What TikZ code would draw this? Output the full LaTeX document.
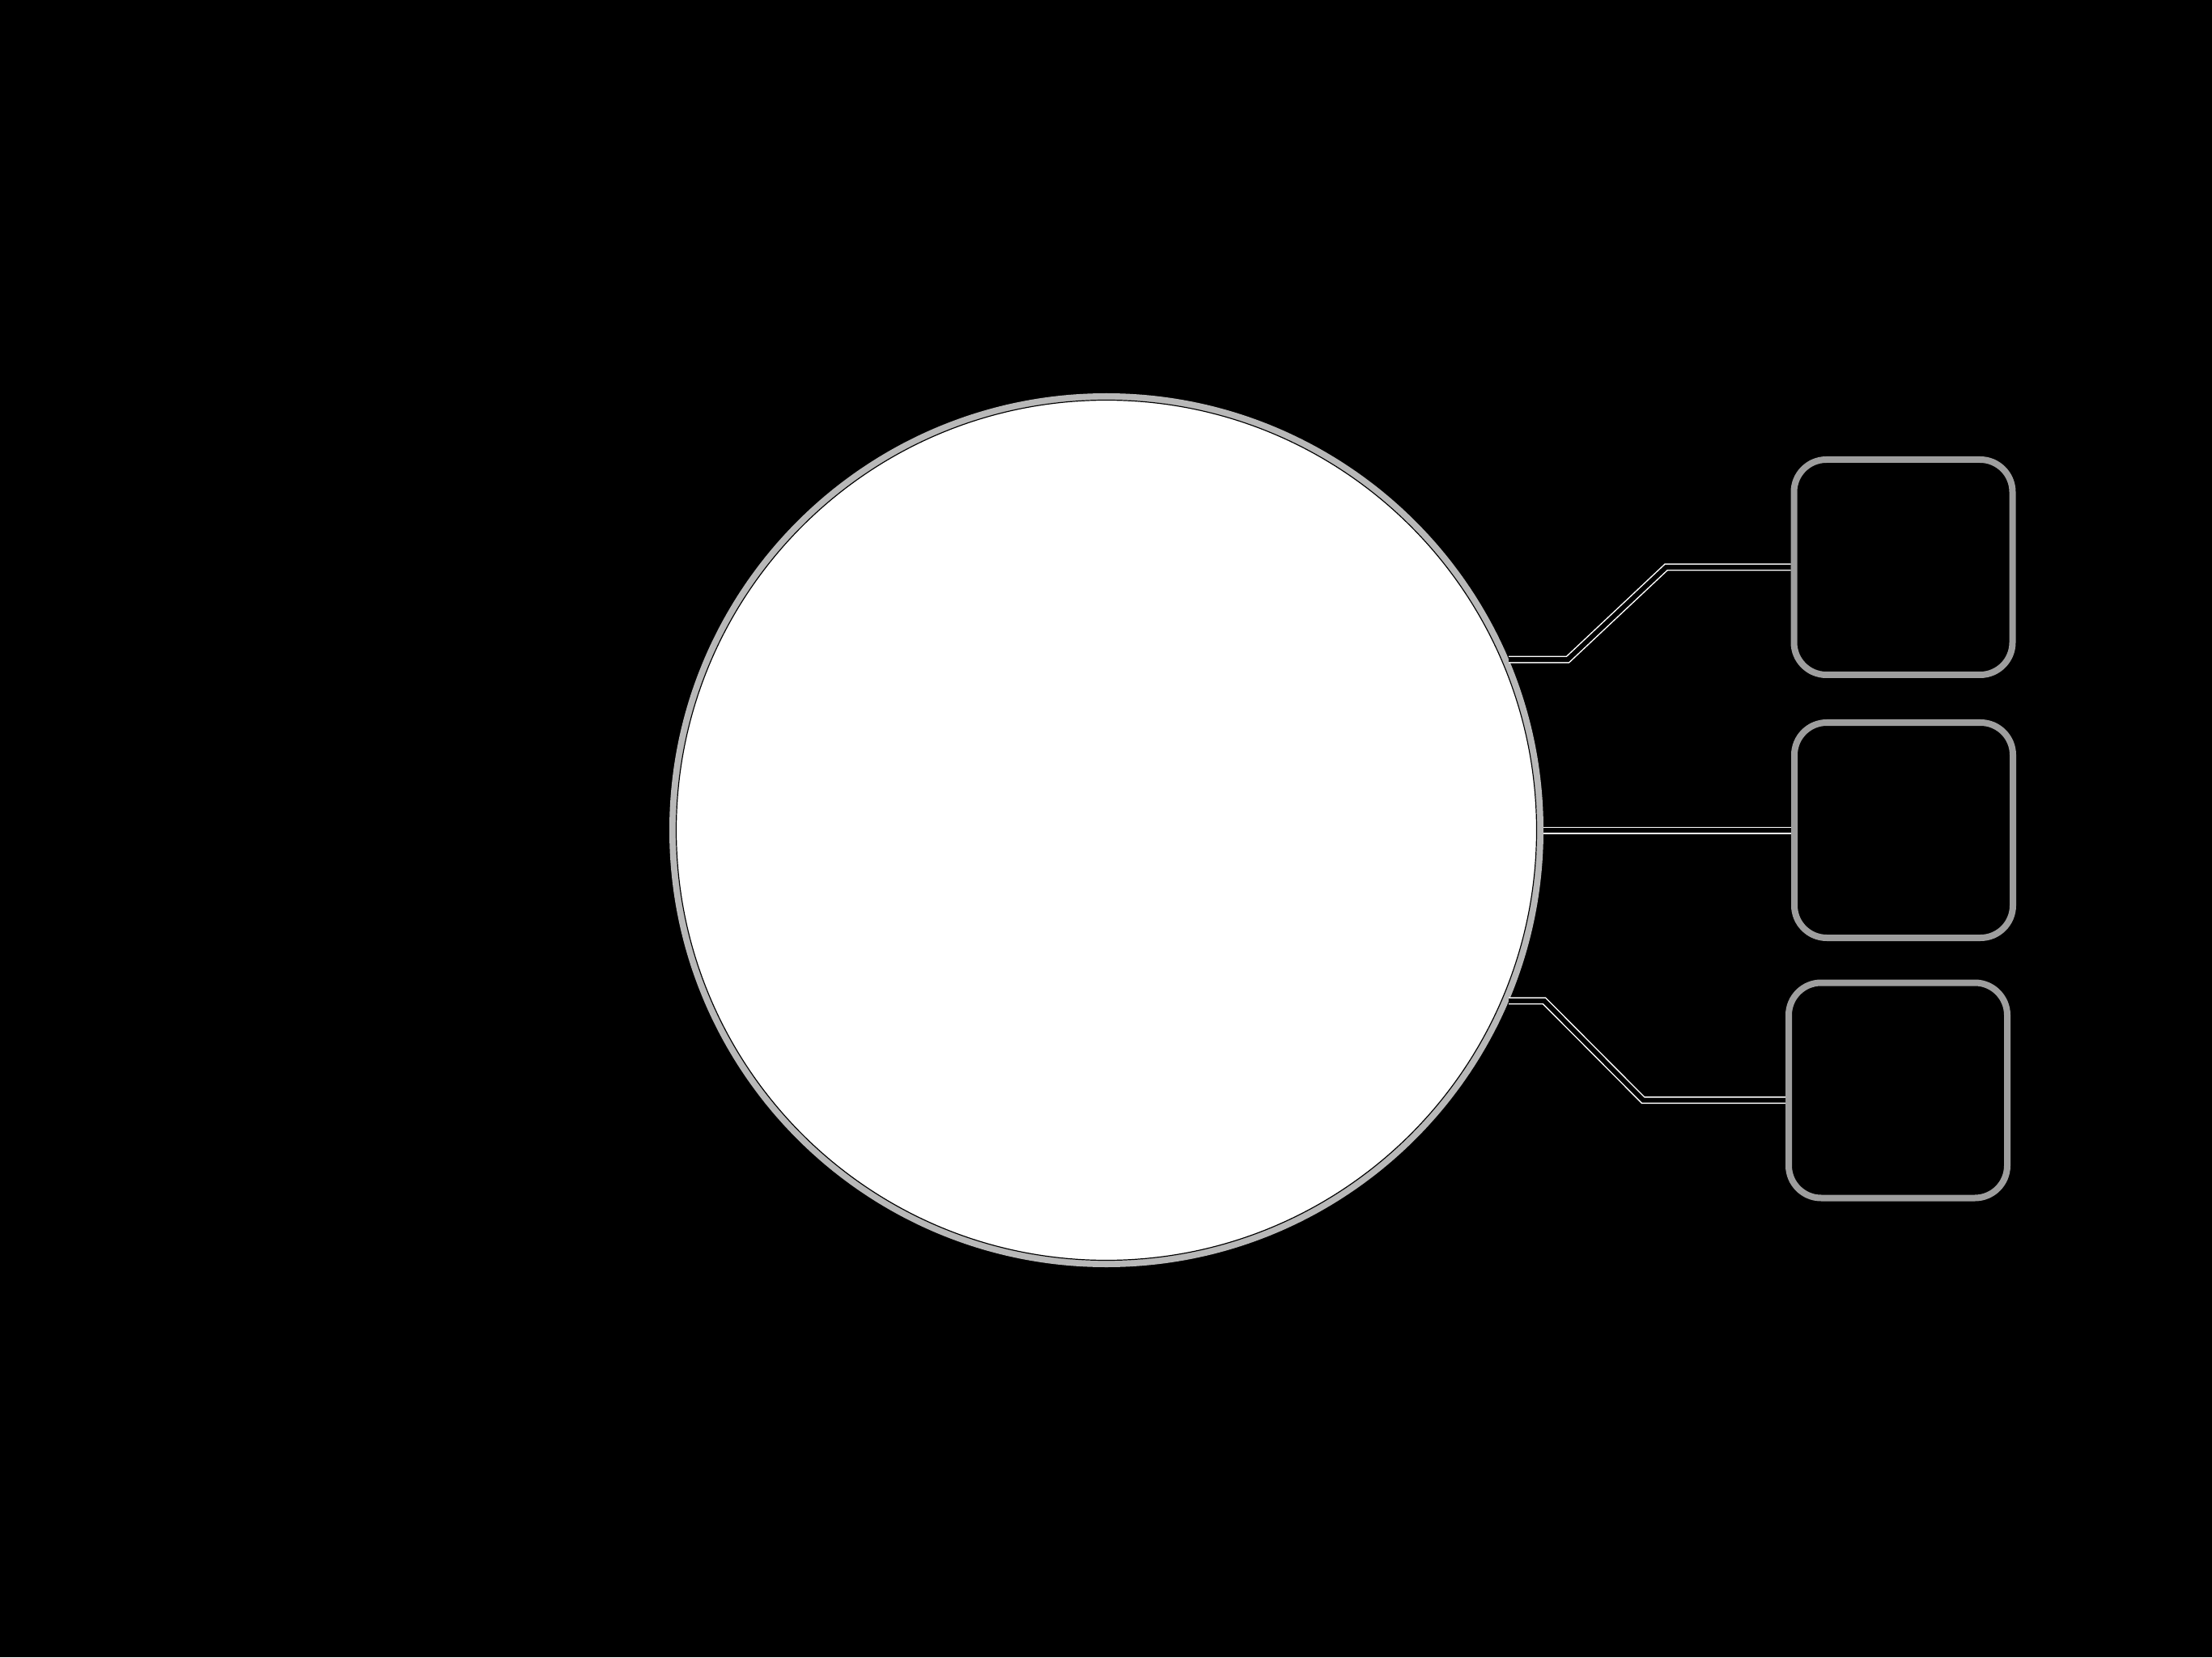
\documentclass[tikz,border=0pt]{standalone}
\usepackage{tikz}
\usetikzlibrary{positioning}
\definecolor{ringgray}{gray}{0.72}
\definecolor{boxgray}{gray}{0.62}

\begin{document}
\begin{tikzpicture}[
    hubnode/.style={circle, fill=white, draw=ringgray, line width=0.08cm, inner sep=0pt, minimum size=10.72cm},
    slot/.style={rectangle, rounded corners=0.4cm, fill=black, draw=boxgray, line width=0.08cm, inner sep=0pt, minimum width=2.70cm, minimum height=2.66cm},
    link/.style={draw=white, line width=0.015cm, double=black, double distance=0.06cm}]
                \fill[black] (0,0) rectangle (27.33,20.48);
                \node[hubnode] (hub) at (13.67,10.22) {};
                \draw[black, line width=0.012cm] (hub.center) circle [radius=5.315];
                \node[slot] (top) at (23.515,13.47) {};
                \node[slot] (mid) at (23.52,10.22) {};
                \node[slot] (bot) at (23.45,7.005) {};
                \draw[link] (hub.23) -- ++(0.73,0) -- ([xshift=-1.54cm]top.west) -- (top.west);
                \draw[link] (hub.east) -- (mid.west);
                \draw[link] (hub.-23) -- ++(0.44,0) -- ([xshift=-1.76cm,yshift=-0.12cm]bot.west) -- ([yshift=-0.12cm]bot.west);
\end{tikzpicture}
\end{document}
